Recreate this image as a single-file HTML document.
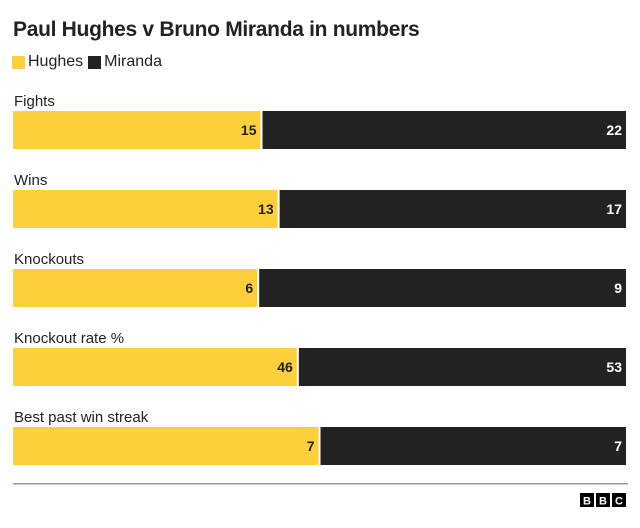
<!DOCTYPE html>
<html><head><meta charset="utf-8"><style>
body{margin:0;background:#fff;width:640px;height:528px;overflow:hidden;font-family:"Liberation Sans",sans-serif;position:relative;color:#222}
.t{position:absolute;left:13px;top:18px;font-size:21px;font-weight:bold;letter-spacing:-0.3px}
.lg{position:absolute;top:53px;font-size:16px;display:flex;align-items:center;left:12px}
.sw{width:13px;height:13px;display:inline-block;margin-right:3px}
</style></head><body>
<div class="t">Paul Hughes v Bruno Miranda in numbers</div>
<div class="lg">
<span class="sw" style="background:#fcd03a"></span><span style="margin-right:5px">Hughes</span>
<span class="sw" style="background:#222"></span><span>Miranda</span>
</div>
<svg id="c" width="640" height="528" style="position:absolute;left:0;top:0"></svg>
<script>
const categories=["Fights","Wins","Knockouts","Knockout rate %","Best past win streak"];
const hughes=[15,13,6,46,7];
const miranda=[22,17,9,53,7];
const svg=document.getElementById('c');
const NS='http://www.w3.org/2000/svg';
const x0=13,x1=626,top0=111,step=79,bh=38;
function mk(t,a){const e=document.createElementNS(NS,t);for(const k in a)e.setAttribute(k,a[k]);svg.appendChild(e);return e;}
categories.forEach((c,i)=>{
  const y=top0+i*step;
  const split=x0+(x1-x0)*hughes[i]/(hughes[i]+miranda[i]);
  const lab=mk('text',{x:14,y:y-5,'font-size':15,fill:'#222','font-family':'Liberation Sans, sans-serif'});
  lab.textContent=c;
  
  
  const a=mk('rect',{x:x0,y:y,width:split-x0-1,height:bh,fill:'#fcd03a'});
  
  
  const b=mk('rect',{x:split+1,y:y,width:x1-split-1,height:bh,fill:'#222'});
  
  
  const v1=mk('text',{x:split-5,y:y+24,'text-anchor':'end','font-size':14,'font-weight':'bold',fill:'#222','font-family':'Liberation Sans, sans-serif'});
  v1.textContent=hughes[i];
  
  
  const v2=mk('text',{x:x1-4,y:y+24,'text-anchor':'end','font-size':14,'font-weight':'bold',fill:'#fff','font-family':'Liberation Sans, sans-serif'});
  v2.textContent=miranda[i];
  
  
});
const ln=mk('rect',{x:13,y:483,width:615,height:1.5,fill:'#999'});


['B','B','C'].forEach((l,i)=>{
  const r=mk('rect',{x:580+i*16,y:493,width:14,height:14,fill:'#000'});
  
  
  const t=mk('text',{x:587+i*16,y:504.5,'text-anchor':'middle','font-size':11,'font-weight':'bold',fill:'#fff','font-family':'Liberation Sans, sans-serif'});
  t.textContent=l;
  
  
});
</script>
</body></html>
